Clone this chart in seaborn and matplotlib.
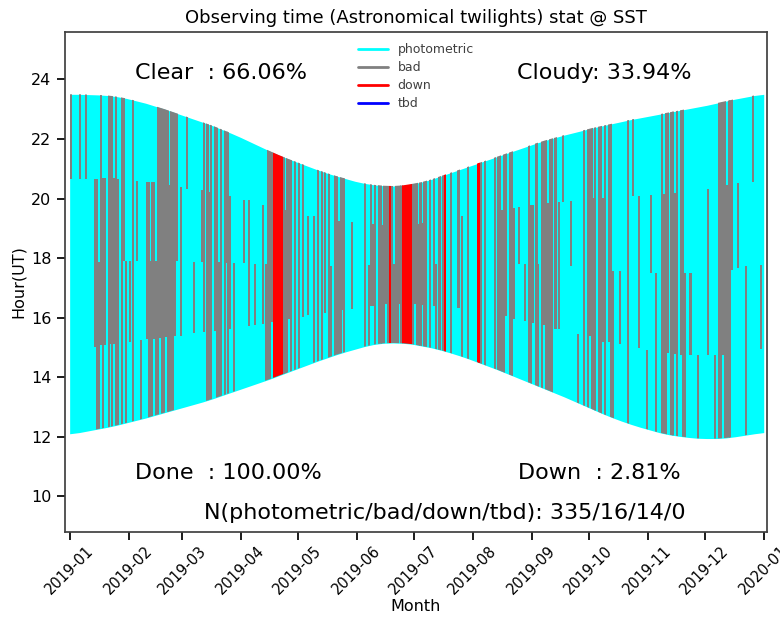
import matplotlib
matplotlib.use("Agg")
import pandas as pd
import matplotlib.pyplot as plt
import matplotlib.dates as mdates
from matplotlib.lines import Line2D
import seaborn as sns


# -------------------------
# Data
# -------------------------
# astronomical twilight limits (UT hour), read every 5 days from 2019-01-01 to 2020-01-01
dusk_hour = [
    12.10, 12.14, 12.20, 12.26, 12.32, 12.39, 12.47, 12.55, 12.63, 12.72,
    12.81, 12.90, 12.99, 13.08, 13.17, 13.27, 13.38, 13.49, 13.60, 13.71,
    13.82, 13.93, 14.05, 14.17, 14.29, 14.41, 14.53, 14.64, 14.75, 14.85,
    14.94, 15.03, 15.10, 15.14, 15.15, 15.14, 15.11, 15.05, 14.99, 14.91,
    14.82, 14.72, 14.61, 14.49, 14.37, 14.25, 14.12, 13.99, 13.86, 13.73,
    13.60, 13.47, 13.34, 13.20, 13.06, 12.92, 12.78, 12.65, 12.53, 12.42,
    12.32, 12.23, 12.14, 12.07, 12.02, 11.98, 11.95, 11.94, 11.94, 11.96,
    12.00, 12.05, 12.10, 12.14,
]
dawn_hour = [
    23.50, 23.50, 23.49, 23.48, 23.46, 23.42, 23.36, 23.28, 23.20, 23.10,
    23.00, 22.89, 22.78, 22.67, 22.56, 22.45, 22.32, 22.19, 22.05, 21.90,
    21.75, 21.60, 21.46, 21.33, 21.21, 21.09, 20.97, 20.86, 20.76, 20.67,
    20.58, 20.51, 20.46, 20.43, 20.42, 20.44, 20.49, 20.55, 20.64, 20.75,
    20.86, 20.97, 21.08, 21.19, 21.30, 21.41, 21.52, 21.63, 21.74, 21.85,
    21.95, 22.04, 22.13, 22.21, 22.29, 22.37, 22.44, 22.51, 22.58, 22.65,
    22.71, 22.77, 22.83, 22.89, 22.95, 23.01, 23.07, 23.13, 23.20, 23.27,
    23.34, 23.40, 23.46, 23.50,
]

# one char per night: hex bitmask of bad quarters (1 = first .. 8 = last), x = down
status_jan = "8000080080" "000673E760" "FEF6F70FC30"
status_feb = "20F0401006" "73763FEFFE" "F7FFEC06"
status_mar = "0080002000" "4E0F7F0EF3" "F0FCF603000"
status_apr = "0400600200" "0603FFExxx" "xxF7FEF0F0"
status_may = "F0E0060070" "F0F0E0F30F" "F7FEF000600"
status_jun = "0000F03E6F" "0FF7FEFxF3" "FFEFxxxxxF"
status_jul = "EF7F6FF0F0" "E30F0Fx00F" "000E0700F00"
status_aug = "00xxF0F000" "0F0FF7FE0F" "F60040020F7"
status_sep = "60F30FEF7F" "F0E0608000" "4000100F0F"
status_oct = "EF7F0FF6F0" "EF30002000" "F0080060001"
status_nov = "0400300F7F" "E0FF6F0EF3" "0020001000"
status_dec = "0600010FFE" "F7FFC00400" "03000800020"

statuses = ["photometric", "bad", "down", "tbd"]
status_colors = ["cyan", "gray", "red", "blue"]

clear_pct = 66.06
cloudy_pct = 33.94
done_pct = 100.00
down_pct = 2.81
n_counts = [335, 16, 14, 0]


# -------------------------
# Build segments
# -------------------------
limit_dates = pd.date_range("2019-01-01", periods=len(dusk_hour), freq="5D")
nights = pd.date_range("2019-01-01", "2019-12-31", freq="D")
codes = "".join([status_jan, status_feb, status_mar, status_apr, status_may,
                 status_jun, status_jul, status_aug, status_sep, status_oct,
                 status_nov, status_dec])
assert len(codes) == len(nights), len(codes)

rows = []
for i, (night, code) in enumerate(zip(nights, codes)):
    k = i // 5
    lo = dusk_hour[k]
    hi = dawn_hour[k]
    step = (hi - lo) / 4
    for q in range(4):
        if code == "x":
            st = "down"
        elif int(code, 16) & (1 << q):
            st = "bad"
        else:
            continue
        start = lo + q * step
        length = step
        # let edge quarters overshoot, the night polygon clips them
        if q == 0:
            start -= 0.4
            length += 0.4
        if q == 3:
            length += 0.4
        rows.append({"night": night, "start": start, "length": length, "status": st})
seg = pd.DataFrame(rows)


# -------------------------
# Plot
# -------------------------
sns.set_theme(style="ticks", rc={"text.color": "black", "axes.labelcolor": "black",
                                 "xtick.color": "black", "ytick.color": "black",
                                 "axes.edgecolor": "0.25"})
plt.rcParams["font.family"] = ["DejaVu Sans"]

fig = plt.figure(figsize=(7.8, 6.23), dpi=100)
ax = fig.add_axes([0.083, 0.146, 0.900, 0.803])

# whole night area = photometric, then bad / down drawn on top
night_area = ax.fill_between(limit_dates, dusk_hour, dawn_hour,
                             color="cyan", linewidth=0)
clip = night_area.get_paths()[0]

cmap = dict(zip(statuses, status_colors))
for st, grp in seg.groupby("status"):
    bars = ax.bar(grp["night"] + pd.Timedelta(hours=12), grp["length"],
                  bottom=grp["start"], width=1.08, color=cmap[st], linewidth=0)
    for p in bars:
        p.set_clip_path(clip, ax.transData)

handles = [Line2D([0], [0], color=c, lw=2) for c in status_colors]
ax.legend(handles, statuses, loc="upper center", frameon=False, fontsize=9,
          handlelength=2.4, labelspacing=0.4, labelcolor="0.25")

ax.set_xlim(pd.Timestamp("2018-12-29 10:00"), pd.Timestamp("2020-01-02 14:00"))
ax.set_ylim(8.8, 25.6)
ax.set_yticks(range(10, 25, 2))
ax.xaxis.set_major_locator(mdates.MonthLocator())
ax.xaxis.set_major_formatter(mdates.DateFormatter("%Y-%m"))
ax.tick_params(axis="x", labelsize=10.5, rotation=45, pad=2)
ax.tick_params(axis="y", labelsize=11.5)

ax.set_xlabel("Month", fontsize=11.5, labelpad=1)
ax.set_ylabel("Hour(UT)", fontsize=11.5)
ax.set_title("Observing time (Astronomical twilights) stat @ SST", fontsize=13)

tf = ax.transAxes
ax.text(0.100, 0.918, f"Clear  : {clear_pct:.2f}%", transform=tf, fontsize=16, va="center")
ax.text(0.644, 0.918, f"Cloudy: {cloudy_pct:.2f}%", transform=tf, fontsize=16, va="center")
ax.text(0.100, 0.118, f"Done  : {done_pct:.2f}%", transform=tf, fontsize=16, va="center")
ax.text(0.645, 0.118, f"Down  : {down_pct:.2f}%", transform=tf, fontsize=16, va="center")
ax.text(0.199, 0.038, "N(photometric/bad/down/tbd): " + "/".join(str(n) for n in n_counts),
        transform=tf, fontsize=16, va="center")

fig.savefig("out.png", dpi=100)
